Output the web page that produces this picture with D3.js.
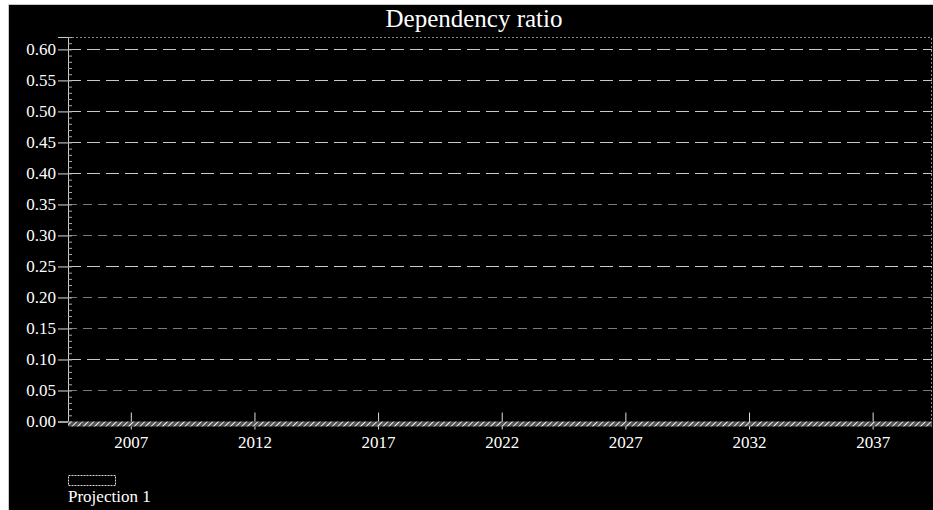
<!DOCTYPE html>
<html>
<head>
<meta charset="utf-8">
<script src="https://cdn.jsdelivr.net/npm/d3@7"></script>
<style>
  html, body { margin: 0; padding: 0; background: #fff; }
  svg { display: block; }
  text { font-family: "Liberation Serif", "DejaVu Serif", serif; }
</style>
</head>
<body>
<svg id="chart" width="933" height="510"></svg>
<script>
// chart data
const title = "Dependency ratio";
const seriesName = "Projection 1";
const years = [2005, 2006, 2007, 2008, 2009, 2010, 2011, 2012, 2013, 2014, 2015, 2016,
	2017, 2018, 2019, 2020, 2021, 2022, 2023, 2024, 2025, 2026, 2027, 2028,
	2029, 2030, 2031, 2032, 2033, 2034, 2035, 2036, 2037, 2038, 2039];
const projection1 = [0, 0, 0, 0, 0, 0, 0, 0, 0, 0, 0, 0,
	0, 0, 0, 0, 0, 0, 0, 0, 0, 0, 0, 0,
	0, 0, 0, 0, 0, 0, 0, 0, 0, 0, 0];
const yTicks = [0, 0.05, 0.1, 0.15, 0.2, 0.25, 0.3, 0.35, 0.4, 0.45, 0.5, 0.55, 0.6];
const xTicks = [2007, 2012, 2017, 2022, 2027, 2032, 2037];

const plotLeft = 68, plotRight = 932, plotTop = 37, plotBottom = 421.5;
const serif = "Liberation Serif, DejaVu Serif, serif";
// gridlines that print fainter in the picture
const faint = [0.05, 0.15, 0.2, 0.3, 0.35];

const svg = d3.select("#chart");

// black panel inside a thin light frame
svg.append("rect")
	.attr("x", 9).attr("y", 5)
	.attr("width", 924).attr("height", 505)
	.attr("fill", "#000");
svg.append("path")
	.attr("d", "M8.5,510 V4.5 H933")
	.attr("fill", "none")
	.attr("stroke", "#c8c8c8")
	.attr("stroke-width", 1);

const defs = svg.append("defs");
const hatch = defs.append("pattern")
	.attr("id", "hatch")
	.attr("patternUnits", "userSpaceOnUse")
	.attr("width", 4).attr("height", 4)
	.attr("patternTransform", "rotate(45)");
hatch.append("rect").attr("width", 4).attr("height", 4).attr("fill", "#555");
hatch.append("line")
	.attr("x1", 0).attr("y1", 0).attr("x2", 0).attr("y2", 4)
	.attr("stroke", "#eee").attr("stroke-width", 2);

const x = d3.scaleLinear().domain([2004.46, 2039.4]).range([plotLeft, plotRight]);
const y = d3.scaleLinear().domain([0, 0.62]).range([plotBottom, plotTop]);

// title
svg.append("text")
	.attr("x", 474).attr("y", 27)
	.attr("text-anchor", "middle")
	.attr("fill", "#fff")
	.attr("font-family", serif)
	.attr("font-size", 25)
	.text(title);

// plot border (top and right, dotted)
svg.append("path")
	.attr("d", `M${plotLeft},${plotTop + 0.5} H${plotRight - 0.5} V${plotBottom}`)
	.attr("fill", "none")
	.attr("stroke", "#888")
	.attr("stroke-width", 1)
	.attr("stroke-dasharray", "2,2");

// dashed gridlines
svg.append("g")
	.selectAll("line")
	.data(yTicks.filter((d) => d > 0))
	.join("line")
	.attr("x1", plotLeft).attr("x2", plotRight)
	.attr("y1", (d) => Math.round(y(d)) + 0.5)
	.attr("y2", (d) => Math.round(y(d)) + 0.5)
	.attr("stroke", (d) => (faint.includes(d) ? "#7a7a7a" : "#c8c8c8"))
	.attr("stroke-width", 1)
	.attr("stroke-dasharray", (d) => (faint.includes(d) ? "9,6" : "13,6"));

// y axis with minor ticks
const yAxis = svg.append("g")
	.attr("transform", `translate(${plotLeft},0)`)
	.call(d3.axisLeft(y).tickValues(yTicks).tickFormat(d3.format(".2f")).tickSize(10).tickPadding(2));
yAxis.select(".domain").attr("stroke", "#ccc");
yAxis.selectAll(".tick line").attr("stroke", "#ddd");
yAxis.selectAll(".tick text")
	.attr("fill", "#fff")
	.attr("font-family", serif)
	.attr("font-size", 17);

svg.append("g")
	.attr("transform", `translate(${plotLeft},0)`)
	.call(d3.axisRight(y).ticks(62).tickSize(4).tickFormat(""))
	.call((g) => g.select(".domain").remove())
	.selectAll(".tick line").attr("stroke", "#aaa");

// x axis
const xAxis = svg.append("g")
	.attr("transform", `translate(0,${plotBottom})`)
	.call(d3.axisBottom(x).tickValues(xTicks).tickFormat(d3.format("d")).tickSize(8).tickPadding(6));
xAxis.select(".domain").remove();
xAxis.selectAll(".tick line").attr("stroke", "#ddd").attr("y1", -9);
xAxis.selectAll(".tick text")
	.attr("fill", "#fff")
	.attr("font-family", serif)
	.attr("font-size", 17);

// the series, flat along zero, drawn as a hatched band
const band = d3.area()
	.x((d, i) => x(years[i]))
	.y0((d) => y(d) + 5)
	.y1((d) => y(d));
svg.append("path")
	.datum(projection1)
	.attr("d", band)
	.attr("fill", "url(#hatch)");
svg.append("rect")
	.attr("x", plotLeft).attr("y", plotBottom)
	.attr("width", x(years[0]) - plotLeft).attr("height", 5)
	.attr("fill", "url(#hatch)");
svg.append("rect")
	.attr("x", x(years[years.length - 1])).attr("y", plotBottom)
	.attr("width", plotRight - x(years[years.length - 1])).attr("height", 5)
	.attr("fill", "url(#hatch)");

// legend
svg.append("rect")
	.attr("x", 68.5).attr("y", 475.5)
	.attr("width", 47).attr("height", 10)
	.attr("fill", "#000")
	.attr("stroke", "#ddd")
	.attr("stroke-dasharray", "2,1");
svg.append("text")
	.attr("x", 68).attr("y", 502)
	.attr("fill", "#fff")
	.attr("font-family", serif)
	.attr("font-size", 17)
	.text(seriesName);
</script>
</body>
</html>
